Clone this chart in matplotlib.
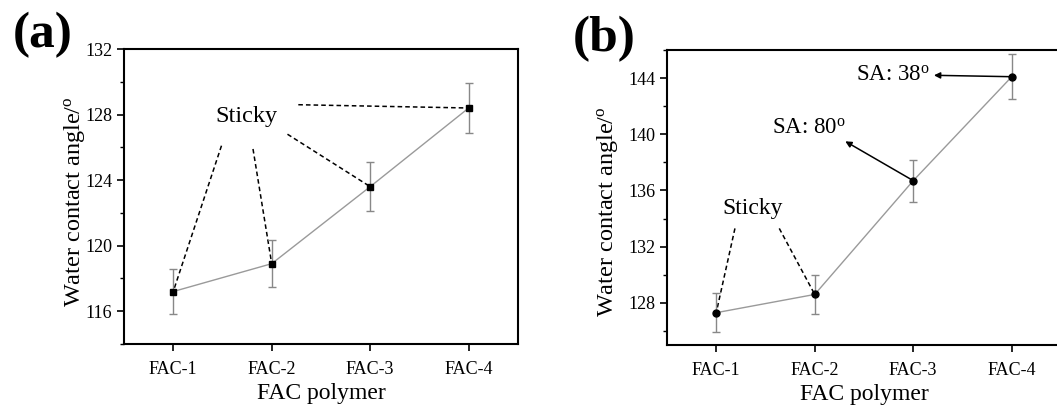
import matplotlib
matplotlib.use("Agg")
import matplotlib.pyplot as plt
from matplotlib.ticker import MultipleLocator

plt.rcParams["font.family"] = ["Liberation Serif", "DejaVu Serif"]
plt.rcParams["mathtext.fontset"] = "custom"
plt.rcParams["mathtext.rm"] = "Liberation Serif"
plt.rcParams["mathtext.it"] = "Liberation Serif:italic"

# Dane
polymers = ["FAC-1", "FAC-2", "FAC-3", "FAC-4"]
wca_a = [117.2, 118.9, 123.6, 128.4]
err_a = [1.4, 1.45, 1.5, 1.55]
wca_b = [127.3, 128.6, 136.7, 144.1]
err_b = [1.4, 1.4, 1.5, 1.6]

x = [1, 2, 3, 4]

fig = plt.figure(figsize=(10.57, 4.08), dpi=100)
ax1 = fig.add_axes([0.1173, 0.1569, 0.3727, 0.723])
ax2 = fig.add_axes([0.631, 0.1544, 0.3728, 0.723])


def styl(ax, ylim, major, ylab_xy):
    ax.set_xlim(0.5, 4.5)
    ax.set_ylim(*ylim)
    ax.set_xticks(x)
    ax.set_xticklabels(polymers)
    ax.yaxis.set_major_locator(MultipleLocator(major))
    ax.yaxis.set_minor_locator(MultipleLocator(major / 2))
    ax.tick_params(axis="both", which="major", direction="out", length=5,
                   width=1.2, labelsize=13, top=False, right=False)
    ax.tick_params(axis="y", which="minor", direction="out", length=3, width=1)
    ax.tick_params(axis="x", pad=7)
    for s in ax.spines.values():
        s.set_linewidth(1.5)
    ax.set_xlabel("FAC polymer", fontsize=17, labelpad=4)
    ax.set_ylabel(r"Water contact angle/$^{\mathrm{o}}$", fontsize=17.5)
    ax.yaxis.set_label_coords(*ylab_xy)


# Wykres (a)
ax1.errorbar(x, wca_a, yerr=err_a, color="#9a9a9a", lw=1, capsize=3,
             ecolor="#888888", elinewidth=1, marker="s", ms=5,
             mfc="black", mec="black", zorder=3)
styl(ax1, (114, 132), 4, (-0.093, 0.481))
ax1.text(1.74, 127.9, "Sticky", fontsize=17.5, ha="center", va="center")
for (sx, sy), px, py in zip([(1.49, 126.1), (1.81, 125.9), (2.16, 126.8), (2.27, 128.6)],
                            x, wca_a):
    ax1.plot([sx, px], [sy, py], ls=(0, (3, 2)), color="black", lw=1.1)
fig.text(0.04, 0.915, "(a)", fontsize=37, fontweight="bold", ha="center", va="center")

# Wykres (b)
ax2.errorbar(x, wca_b, yerr=err_b, color="#9a9a9a", lw=1, capsize=3,
             ecolor="#888888", elinewidth=1, marker="o", ms=5,
             mfc="black", mec="black", zorder=3)
styl(ax2, (125, 146), 4, (-0.12, 0.452))
ax2.text(1.37, 134.7, "Sticky", fontsize=17, ha="center", va="center")
for (sx, sy), px, py in zip([(1.19, 133.3), (1.64, 133.3)], x[:2], wca_b[:2]):
    ax2.plot([sx, px], [sy, py], ls=(0, (3, 2)), color="black", lw=1.1)
ax2.annotate("", xy=(3.21, 144.2), xytext=(x[3], wca_b[3]),
             arrowprops=dict(arrowstyle="-|>", color="black", lw=1.1,
                             mutation_scale=9, shrinkA=0, shrinkB=0))
ax2.text(3.17, 144.2, r"SA: 38$^{\mathrm{o}}$", fontsize=16.5, ha="right", va="center")
ax2.annotate("", xy=(2.31, 139.5), xytext=(x[2], wca_b[2]),
             arrowprops=dict(arrowstyle="-|>", color="black", lw=1.1,
                             mutation_scale=9, shrinkA=0, shrinkB=0))
ax2.text(1.94, 140.4, r"SA: 80$^{\mathrm{o}}$", fontsize=16.5, ha="center", va="center")
fig.text(0.572, 0.905, "(b)", fontsize=37, fontweight="bold", ha="center", va="center")

plt.savefig("out.png", dpi=100)
